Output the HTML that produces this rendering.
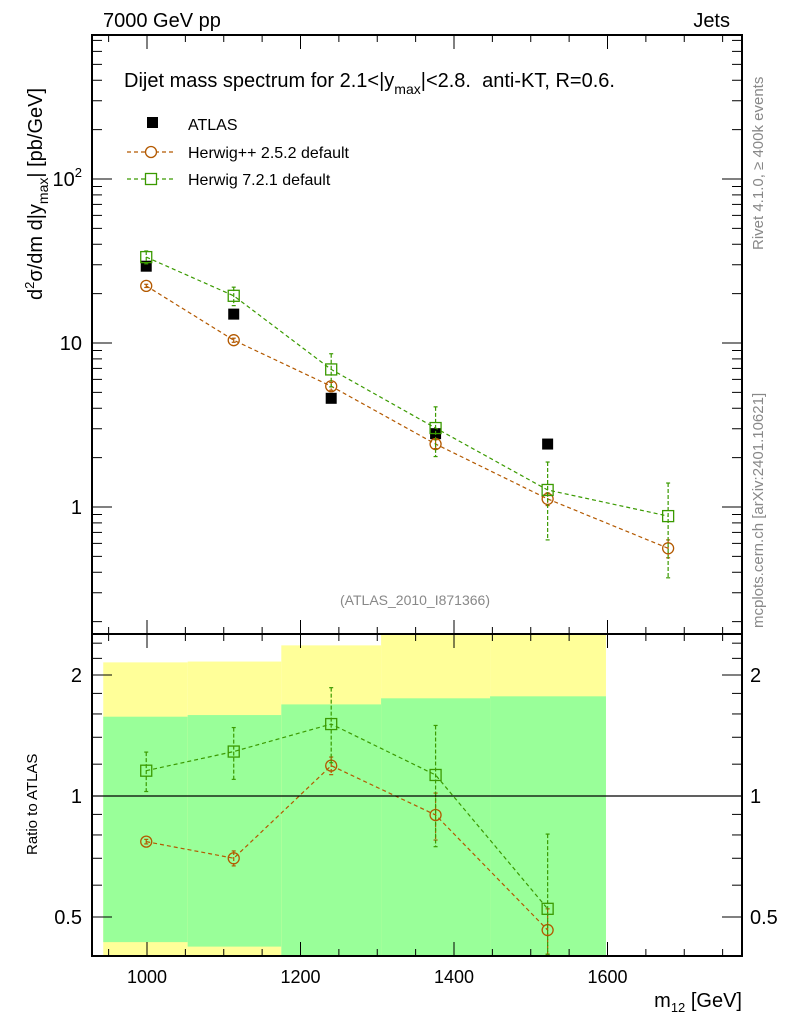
<!DOCTYPE html>
<html><head><meta charset="utf-8"><style>
html,body{margin:0;padding:0;background:#fff;}
svg{display:block;font-family:"Liberation Sans",sans-serif;}
</style></head><body>
<svg id="chart" width="786" height="1024" viewBox="0 0 786 1024" xmlns="http://www.w3.org/2000/svg">
<defs>
<clipPath id="cmain"><rect x="92" y="35" width="650" height="599"/></clipPath>
<clipPath id="cratio"><rect x="92" y="634" width="650" height="322"/></clipPath>
</defs>
<text x="103" y="27" font-size="20">7000 GeV pp</text>
<text x="730" y="27" font-size="20" text-anchor="end">Jets</text>
<text x="124" y="87" font-size="20">Dijet mass spectrum for 2.1&lt;|y<tspan font-size="14" dy="7">max</tspan><tspan dy="-7">|&lt;2.8.&#160; anti-KT, R=0.6.</tspan></text>
<text transform="translate(42,300) rotate(-90)" font-size="20">d<tspan font-size="13" dy="-8">2</tspan><tspan dy="8">σ/dm d|y</tspan><tspan font-size="14" dy="6">max</tspan><tspan dy="-6">| [pb/GeV]</tspan></text>
<text transform="translate(763,250) rotate(-90)" font-size="15" fill="#888">Rivet 4.1.0, ≥ 400k events</text>
<text transform="translate(763,628) rotate(-90)" font-size="15" fill="#888">mcplots.cern.ch [arXiv:2401.10621]</text>
<text x="415" y="605" font-size="14" fill="#888" text-anchor="middle">(ATLAS_2010_I871366)</text>
<text transform="translate(37,855) rotate(-90)" font-size="15">Ratio to ATLAS</text>
<text x="742" y="1007" font-size="20" text-anchor="end">m<tspan font-size="13" dy="5">12</tspan><tspan dy="-5"> [GeV]</tspan></text>
<g id="legend">
<rect x="147" y="117" width="11" height="11" fill="#000"/>
<text x="188" y="130" font-size="16">ATLAS</text>
<line x1="127" y1="152" x2="175" y2="152" stroke="#b35900" stroke-width="1.2" stroke-dasharray="4,3"/>
<circle cx="151" cy="152" r="5.5" fill="#fff" stroke="#b35900" stroke-width="1.3"/>
<text x="188" y="158" font-size="16">Herwig++ 2.5.2 default</text>
<line x1="127" y1="179" x2="175" y2="179" stroke="#3a9a00" stroke-width="1.2" stroke-dasharray="4,3"/>
<rect x="145.5" y="173.5" width="11" height="11" fill="#fff" stroke="#3a9a00" stroke-width="1.3"/>
<text x="188" y="185" font-size="16">Herwig 7.2.1 default</text>
</g>
</svg>
<script>
const binLo=[943,1053,1175,1305,1447];
const binHi=[1053,1175,1305,1447,1598];
const xCenters=[999,1113,1240,1376,1522,1679];
const atlasVals=[29.4,15.0,4.6,2.8,2.42];
const hppVals=[22.3,10.4,5.45,2.42,1.12,0.56];
const hppErrLo=[0.5,0.3,0.3,0.15,0.1,0.07];
const hppErrHi=[0.5,0.3,0.3,0.15,0.1,0.07];
const h7Vals=[33.4,19.4,6.9,3.03,1.27,0.88];
const h7ErrLo=[3,2.5,1.5,1.0,0.64,0.51];
const h7ErrHi=[3,2.5,1.7,1.05,0.61,0.52];
const ratioHpp=[0.77,0.70,1.19,0.897,0.464];
const ratioHppErr=[0.01,0.03,0.06,0.12,0.06];
const ratioH7=[1.156,1.29,1.51,1.128,0.524];
const ratioH7ErrLo=[0.13,0.19,0.3,0.38,0.12];
const ratioH7ErrHi=[0.13,0.19,0.35,0.37,0.28];
const greenHi=[1.575,1.59,1.69,1.75,1.77];
const greenLo=[0.433,0.422,0.3,0.3,0.3];
const yellowHi=[2.15,2.16,2.37,3,3];
const yellowLo=[0.3,0.3,0.3,0.3,0.3];
const xTicks=[1000,1200,1400,1600];
const mainYTicks=[1,10,100];
const ratioYTicks=[0.5,1,2];

const NS="http://www.w3.org/2000/svg";
const svg=document.getElementById('chart');
const L=92,R=742,T=35,M=634,B=956;
const X=m=>147+(m-1000)*0.7675;
const Y=v=>507-164*Math.log10(v);
const RY=r=>796-121*Math.log2(r);
function el(tag,attrs,parent){const e=document.createElementNS(NS,tag);for(const k in attrs)e.setAttribute(k,attrs[k]);(parent||svg).appendChild(e);return e;}
const clamp=(v,a,b)=>Math.max(a,Math.min(b,v));
const gMain=el('g',{'clip-path':'url(#cmain)'});
const gRatio=el('g',{'clip-path':'url(#cratio)'});

binLo.forEach((lo,i)=>{
  const y1=clamp(RY(yellowHi[i]),M,B),y2=clamp(RY(yellowLo[i]),M,B);
  const r=el('rect',{x:X(lo),y:y1,width:X(binHi[i])-X(lo),height:y2-y1,fill:'#ffff99'},gRatio);
  
  
  const g1=clamp(RY(greenHi[i]),M,B),g2=clamp(RY(greenLo[i]),M,B);
  const g=el('rect',{x:X(lo),y:g1,width:X(binHi[i])-X(lo),height:g2-g1,fill:'#99ff99'},gRatio);
  
  
});
const one=el('line',{x1:L,x2:R,y1:RY(1),y2:RY(1),stroke:'#000','stroke-width':1.2});



[[T,M],[M,B]].forEach(([t,b],k)=>{
  const f=el('rect',{x:L,y:t,width:R-L,height:b-t,fill:'none',stroke:'#000','stroke-width':2});
  
  
  for(let m=950;m<=1750;m+=50){
    const major=m%200==0;const len=major?14:7;
    el('line',{x1:X(m),x2:X(m),y1:b,y2:b-len,stroke:'#000','stroke-width':1});
    el('line',{x1:X(m),x2:X(m),y1:t,y2:t+len,stroke:'#000','stroke-width':1});
  }
});
xTicks.forEach(m=>{
  const t=el('text',{x:X(m),y:983,'font-size':18,'text-anchor':'middle'});
  t.textContent=m;
  
  
});
for(let d=-1;d<=2;d++)for(let k=1;k<=9;k++){
  const v=k*Math.pow(10,d);const y=Y(v);if(y<T||y>M)continue;
  const len=k==1?20:10;
  el('line',{x1:L,x2:L+len,y1:y,y2:y,stroke:'#000','stroke-width':1});
  el('line',{x1:R,x2:R-len,y1:y,y2:y,stroke:'#000','stroke-width':1});
}
mainYTicks.forEach(v=>{
  const t=el('text',{x:82,y:Y(v)+7,'font-size':20,'text-anchor':'end'});
  if(v==100){t.textContent='10';const s=el('tspan',{'font-size':13,dy:-9},t);s.textContent='2';}
  else t.textContent=v;
  
  
});
[0.4,0.5,0.6,0.7,0.8,0.9,1,1.2,1.4,1.6,1.8,2,2.2,2.4].forEach(v=>{
  const y=RY(v);if(y<M||y>B)return;const len=(v==0.5||v==1||v==2)?20:10;
  el('line',{x1:L,x2:L+len,y1:y,y2:y,stroke:'#000','stroke-width':1});
  el('line',{x1:R,x2:R-len,y1:y,y2:y,stroke:'#000','stroke-width':1});
});
ratioYTicks.forEach(v=>{
  [[82,'end'],[750,'start']].forEach(([x,a])=>{
    const t=el('text',{x:x,y:RY(v)+7,'font-size':20,'text-anchor':a});
    t.textContent=v;
    
    
  });
});

function series(vals,lo,hi,xs,yf,color,shape,name,g){
  const pts=vals.map((v,i)=>X(xs[i])+','+yf(v)).join(' ');
  const pl=el('polyline',{points:pts,fill:'none',stroke:color,'stroke-width':1.2,'stroke-dasharray':'4,3'},g);
  
  
  vals.forEach((v,i)=>{
    const x=X(xs[i]),y=yf(v);
    const y1=yf(v+hi[i]),y2=yf(Math.max(v-lo[i],1e-3));
    el('line',{x1:x,x2:x,y1:y1,y2:y2,stroke:color,'stroke-width':1.2,'stroke-dasharray':'4,2'},g);
    el('line',{x1:x-2,x2:x+2,y1:y1,y2:y1,stroke:color,'stroke-width':1.2},g);
    el('line',{x1:x-2,x2:x+2,y1:y2,y2:y2,stroke:color,'stroke-width':1.2},g);
    let m;
    if(shape=='c')m=el('circle',{cx:x,cy:y,r:5.5,fill:'none',stroke:color,'stroke-width':1.3},g);
    else m=el('rect',{x:x-5.5,y:y-5.5,width:11,height:11,fill:'none',stroke:color,'stroke-width':1.3},g);
    
    
  });
}
atlasVals.forEach((v,i)=>{
  const r=el('rect',{x:X(xCenters[i])-5.5,y:Y(v)-5.5,width:11,height:11,fill:'#000'},gMain);
  
  
});
series(hppVals,hppErrLo,hppErrHi,xCenters,Y,'#b35900','c','herwigpp',gMain);
series(h7Vals,h7ErrLo,h7ErrHi,xCenters,Y,'#3a9a00','s','herwig7',gMain);
series(ratioHpp,ratioHppErr,ratioHppErr,xCenters,RY,'#b35900','c','ratio-herwigpp',gRatio);
series(ratioH7,ratioH7ErrLo,ratioH7ErrHi,xCenters,RY,'#3a9a00','s','ratio-herwig7',gRatio);
</script>
</body></html>
